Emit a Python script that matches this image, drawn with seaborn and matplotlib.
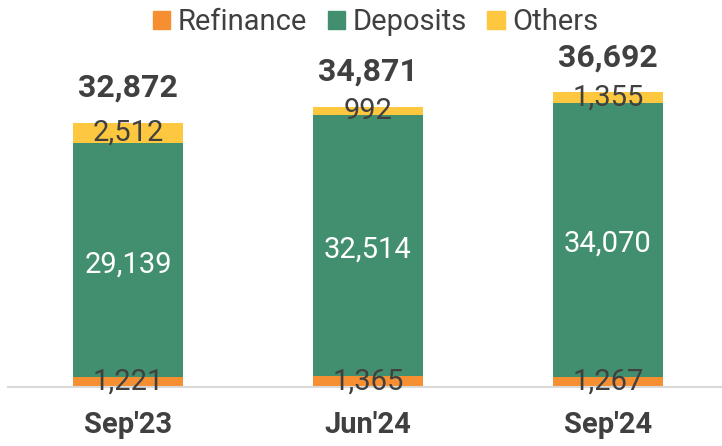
import matplotlib
matplotlib.use("Agg")
import matplotlib.pyplot as plt
import pandas as pd
import seaborn as sns
from matplotlib.patches import Patch

periods = ["Sep'23", "Jun'24", "Sep'24"]
refinance = [1221, 1365, 1267]
deposits = [29139, 32514, 34070]
others = [2512, 992, 1355]
totals = [32872, 34871, 36692]

c_ref = "#F58F32"
c_dep = "#428F6F"
c_oth = "#FDC83F"
txt = "#404040"

df = pd.DataFrame({"period": periods, "ref": refinance, "dep": deposits, "oth": others})
df["ref_top"] = df["ref"]
df["dep_top"] = df["ref"] + df["dep"]
df["oth_top"] = df["dep_top"] + df["oth"]

sns.set_style("white")
plt.rcParams["font.family"] = ["Roboto", "DejaVu Sans"]

fig = plt.figure(figsize=(7.22, 4.46), dpi=100)
ax = fig.add_axes([0.011, 0.1323, 0.989, 0.8677])

# stacked by layering cumulative heights
for col, c in [("oth_top", c_oth), ("dep_top", c_dep), ("ref_top", c_ref)]:
    sns.barplot(data=df, x="period", y=col, color=c, width=0.455, saturation=1,
                linewidth=0, ax=ax)

ax.set_xlim(-0.5, 2.475)
ax.set_ylim(0, 48134)

for i in range(len(periods)):
    r, d, o = refinance[i], deposits[i], others[i]
    ax.text(i, r / 2, f"{r:,}", ha="center", va="center", fontsize=21, color=txt)
    ax.annotate(f"{d:,}", (i, r + d / 2), xytext=(0, -3), textcoords="offset points",
                ha="center", va="center", fontsize=21, color="white")
    ax.text(i, r + d + o / 2, f"{o:,}", ha="center", va="center", fontsize=21, color=txt)
    ax.annotate(f"{totals[i]:,}", (i, r + d + o), xytext=(0, 25), textcoords="offset points",
                ha="center", va="center", fontsize=23, fontweight="bold", color=txt)

sns.despine(ax=ax, left=True, top=True, right=True)
ax.spines["bottom"].set_color("#D9D9D9")
ax.spines["bottom"].set_linewidth(1.5)
ax.set_yticks([])
ax.set_xlabel("")
ax.set_ylabel("")
ax.tick_params(axis="x", length=0, pad=17, labelsize=21, labelcolor=txt)
for lbl in ax.get_xticklabels():
    lbl.set_fontweight("bold")

handles = [Patch(color=c_ref, label="Refinance"),
           Patch(color=c_dep, label="Deposits"),
           Patch(color=c_oth, label="Others")]
fig.legend(handles=handles, loc="upper center", bbox_to_anchor=(0.52, 1.04), ncol=3,
           frameon=False, fontsize=21, handlelength=0.6, handleheight=0.6,
           handletextpad=0.25, columnspacing=0.7, labelcolor=txt)

fig.savefig("out.png", dpi=100)
